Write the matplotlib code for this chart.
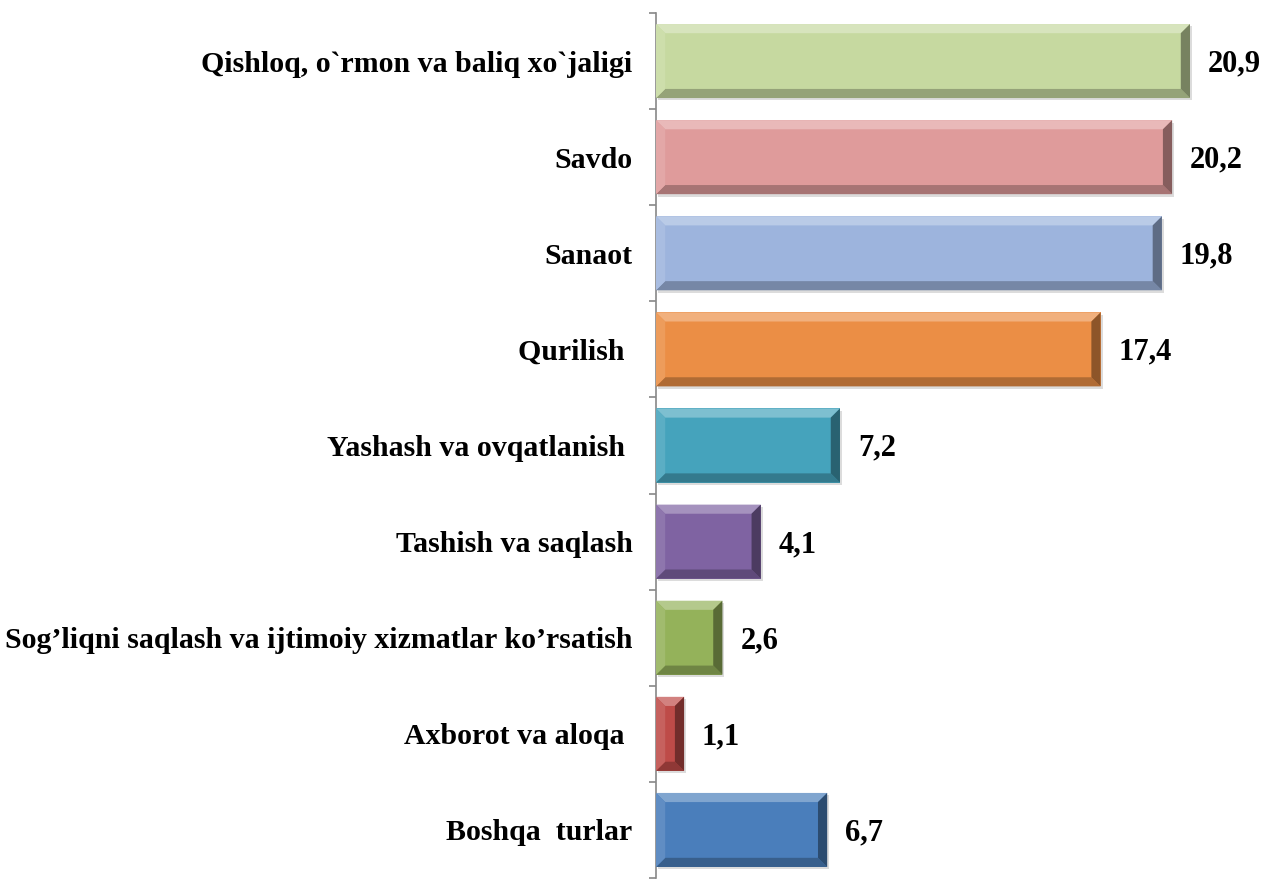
import numpy as np
import matplotlib.pyplot as plt
from matplotlib.patches import Polygon
import matplotlib.colors as mcolors

categories = ["Qishloq, o`rmon va baliq xo`jaligi", "Savdo", "Sanaot", "Qurilish ",
              "Yashash va ovqatlanish ", "Tashish va saqlash",
              "Sog’liqni saqlash va ijtimoiy xizmatlar ko’rsatish",
              "Axborot va aloqa ", "Boshqa  turlar"]
values = [20.9, 20.2, 19.8, 17.4, 7.2, 4.1, 2.6, 1.1, 6.7]
labels = ["20,9", "20,2", "19,8", "17,4", "7,2", "4,1", "2,6", "1,1", "6,7"]
colors = ["#C6D9A0", "#DF9B9B", "#9DB4DD", "#EB8E45", "#45A3BC",
          "#7F63A2", "#94B25A", "#BE4B48", "#4A7EBB"]

plt.rcParams['font.family'] = ['Liberation Serif', 'DejaVu Serif']

fig = plt.figure(figsize=(12.68, 8.82), dpi=100)
ax = fig.add_axes([656 / 1268, 4 / 882, 612 / 1268, 865 / 882])

n = len(values)
ypos = np.arange(n)[::-1]
h = 0.77
bars = ax.barh(ypos, values, height=h, color=colors, edgecolor='none', zorder=2)

bx, by = 0.36, 0.095


def shade(c, f):
    r = np.array(mcolors.to_rgb(c))
    if f > 0:
        return tuple(r + (1 - r) * f)
    return tuple(r * (1 + f))


for b, c in zip(bars, colors):
    x0, y0 = b.get_x(), b.get_y()
    x1, y1 = x0 + b.get_width(), y0 + b.get_height()
    # drop shadow
    ax.add_patch(plt.Rectangle((x0 + 0.08, y0 - 0.025), x1 - x0, y1 - y0,
                               color='#BBBBBB', alpha=0.5, zorder=1, lw=0))
    ax.add_patch(Polygon([(x0, y1), (x1, y1), (x1 - bx, y1 - by), (x0 + bx, y1 - by)],
                         closed=True, color=shade(c, 0.3), lw=0, zorder=3))
    ax.add_patch(Polygon([(x0, y0), (x1, y0), (x1 - bx, y0 + by), (x0 + bx, y0 + by)],
                         closed=True, color=shade(c, -0.25), lw=0, zorder=3))
    ax.add_patch(Polygon([(x1, y0), (x1, y1), (x1 - bx, y1 - by), (x1 - bx, y0 + by)],
                         closed=True, color=shade(c, -0.4), lw=0, zorder=3))
    ax.add_patch(Polygon([(x0, y0), (x0, y1), (x0 + bx, y1 - by), (x0 + bx, y0 + by)],
                         closed=True, color=shade(c, 0.12), lw=0, zorder=3))

for y, v, lab in zip(ypos, values, labels):
    ax.text(v + 0.7, y - 0.03, lab, va='center', ha='left', fontsize=22,
            fontweight='bold', color='black')

ax.set_xlim(0, 612 / 25.55)
ax.set_ylim(-0.5, n - 0.5)
ax.set_yticks(ypos)
ax.set_yticklabels(categories, fontsize=21.5, fontweight='bold')
ax.set_yticks(np.arange(-0.5, n, 1.0), minor=True)
ax.tick_params(axis='y', which='major', length=0, pad=17)
ax.tick_params(axis='y', which='minor', length=5, width=1.2, color='#888888', direction='out')
ax.set_xticks([])
for s in ['top', 'right', 'bottom']:
    ax.spines[s].set_visible(False)
ax.spines['left'].set_color('#888888')
ax.spines['left'].set_linewidth(1.2)

fig.savefig('out.png', dpi=100)
